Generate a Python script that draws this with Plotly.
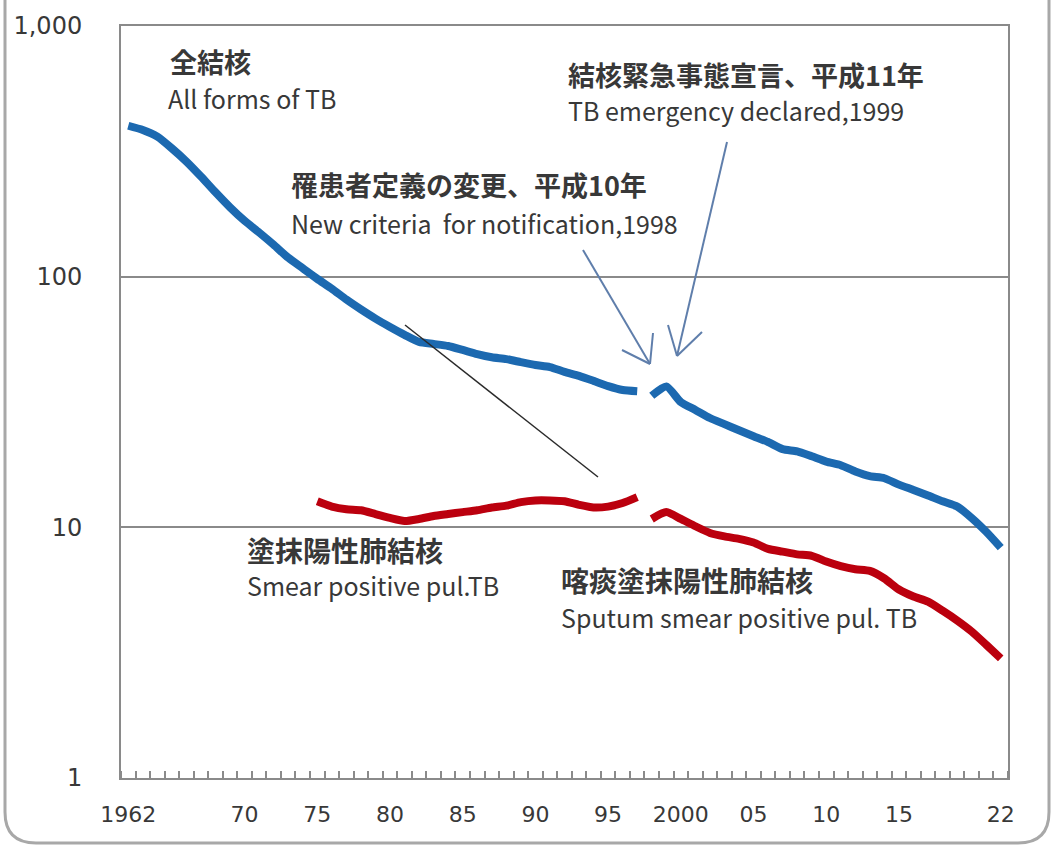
import plotly.graph_objects as go

# ---- data (rate per 100,000) ----
years_all_old = list(range(1962, 1998))
all_old = [400, 385, 362, 325, 288, 251, 217, 189, 167, 150, 134, 119, 108, 98,
           89.5, 81, 74, 68, 63, 58.6, 54.9, 53.9, 52.9, 51, 49.1, 47.7, 46.9,
           45.6, 44.4, 43.6, 41.7, 40.2, 38.4, 36.6, 35.3, 34.9]
years_new = list(range(1998, 2023))
all_new = [33.5, 36.5, 31.6, 29.4, 27.3, 25.8, 24.4, 23.1, 21.9, 20.5, 20.1,
           19.2, 18.3, 17.7, 16.7, 16.0, 15.7, 14.8, 14.1, 13.4, 12.7, 12.1,
           10.9, 9.6, 8.3]
years_sp_old = list(range(1975, 1998))
smear_old = [12.7, 12.1, 11.8, 11.7, 11.3, 10.9, 10.6, 10.8, 11.1, 11.3, 11.5,
             11.7, 12.0, 12.2, 12.6, 12.8, 12.8, 12.7, 12.3, 12.0, 12.1, 12.5, 13.2]
sputum_new = [10.8, 11.5, 10.8, 10.1, 9.5, 9.2, 9.0, 8.7, 8.2, 8.0, 7.8, 7.7,
              7.3, 7.0, 6.8, 6.7, 6.25, 5.65, 5.3, 5.05, 4.65, 4.25, 3.84, 3.4, 3.0]

x_tick_vals = [1962, 1970, 1975, 1980, 1985, 1990, 1995, 2000, 2005, 2010, 2015, 2022]
x_tick_text = ["1962", "70", "75", "80", "85", "90", "95", "2000", "05", "10", "15", "22"]
y_tick_vals = [1, 10, 100, 1000]
y_tick_text = ["1", "10", "100", "1,000"]

BLUE = "#1c69b0"
RED = "#bb000e"
TXT = "#383838"
JP = "Noto Sans CJK JP"
NUM = "DejaVu Sans"

W, H = 1053, 846
L, R, T, B = 121, 1008, 26, 778


def px(x):
    return (x - L) / (R - L)


def py(y):
    return (B - y) / (B - T)


fig = go.Figure()
for xs, ys, c in [(years_all_old, all_old, BLUE), (years_new, all_new, BLUE),
                  (years_sp_old, smear_old, RED), (years_new, sputum_new, RED)]:
    fig.add_trace(go.Scatter(x=xs, y=ys, mode="lines",
                             line=dict(color=c, width=8, shape="spline", smoothing=0.6),
                             showlegend=False, hoverinfo="x+y"))

anns = [
    ("<b>全結核</b>", 168, 61, 27),
    ("All forms of TB", 166, 98, 25),
    ("<b>罹患者定義の変更、平成10年</b>", 289, 184, 27),
    ("New criteria  for notification,1998", 289, 223, 25),
    ("<b>結核緊急事態宣言、平成11年</b>", 566, 75, 27),
    ("TB emergency declared,1999", 566, 110, 25),
    ("<b>塗抹陽性肺結核</b>", 245, 550, 28),
    ("Smear positive pul.TB", 245, 585, 25),
    ("<b>喀痰塗抹陽性肺結核</b>", 559, 580, 28),
    ("Sputum smear positive pul. TB", 559, 617, 25),
]
for text, x, y, s in anns:
    fig.add_annotation(text=text, x=px(x), y=py(y), xref="paper", yref="paper",
                       xanchor="left", yanchor="middle", showarrow=False,
                       font=dict(family=JP, size=s, color=TXT))

ARW = "#5f7eab"
lines = [
    ((583, 250), (650, 364), ARW, 2),
    ((622, 350), (650, 364), ARW, 2),
    ((653, 333), (650, 364), ARW, 2),
    ((727, 142), (677, 356), ARW, 2),
    ((668, 325), (677, 356), ARW, 2),
    ((702, 332), (677, 356), ARW, 2),
    ((405, 325), (598, 477), "#2a2a2a", 1.5),
]
for (x0, y0), (x1, y1), c, w in lines:
    fig.add_shape(type="line", xref="paper", yref="paper",
                  x0=px(x0), y0=py(y0), x1=px(x1), y1=py(y1),
                  line=dict(color=c, width=w))

# outer rounded frame
path = (f"M {px(5)},{py(-5)} L {px(5)},{py(812)} Q {px(5)},{py(843)} {px(36)},{py(843)} "
        f"L {px(1018)},{py(843)} Q {px(1049)},{py(843)} {px(1049)},{py(812)} L {px(1049)},{py(-5)}")
fig.add_shape(type="path", xref="paper", yref="paper", path=path,
              line=dict(color="#a8a8a8", width=3))

fig.update_layout(
    width=W, height=H,
    margin=dict(l=L, r=W - R, t=T, b=H - B),
    paper_bgcolor="white", plot_bgcolor="white",
    font=dict(family=JP, color=TXT),
)
fig.update_xaxes(range=[1961.5, 2022.5], tickmode="array", tickvals=x_tick_vals,
                 ticktext=x_tick_text, ticks="", showgrid=False,
                 showline=True, linecolor="#8a8a8a", linewidth=2, mirror=True,
                 tickfont=dict(family=NUM, size=22, color=TXT), ticklabelstandoff=16,
                 minor=dict(tick0=1961.5, dtick=1, ticks="inside", ticklen=7,
                            tickcolor="#8a8a8a", tickwidth=1.5, showgrid=False),
                 zeroline=False)
fig.update_yaxes(type="log", range=[0, 3], tickmode="array", tickvals=y_tick_vals,
                 ticktext=y_tick_text, ticks="", showgrid=True, gridcolor="#8a8a8a",
                 gridwidth=2, showline=True, linecolor="#8a8a8a", linewidth=2,
                 mirror=True, tickfont=dict(family=NUM, size=24, color=TXT),
                 ticklabelstandoff=32, zeroline=False)

fig.write_html("out.html", config={"displayModeBar": False},
               post_script="document.body.style.margin='0';document.body.style.overflow='hidden';")
